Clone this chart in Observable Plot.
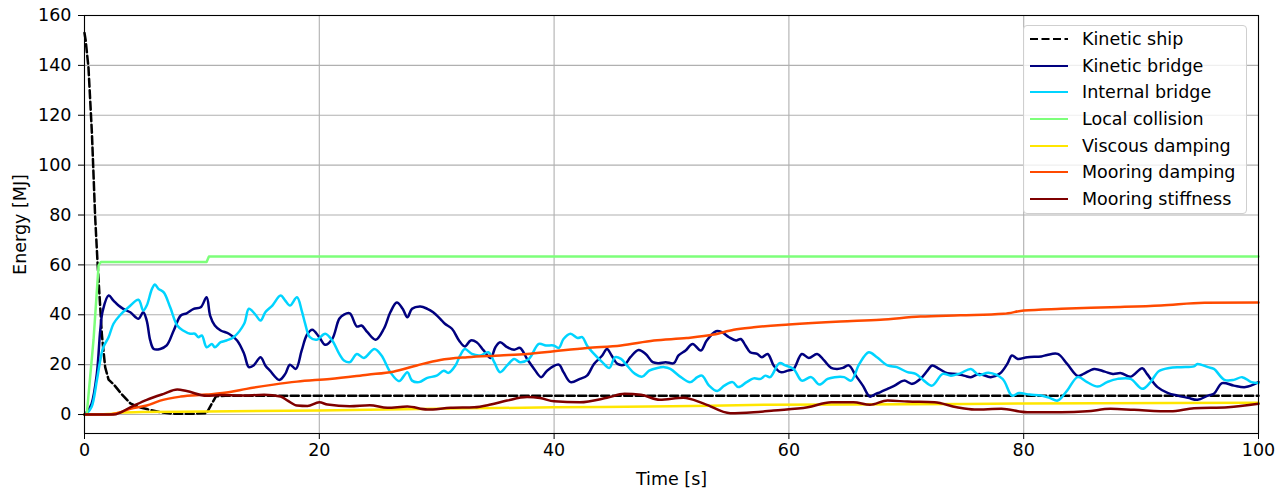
<!DOCTYPE html>
<html>
<head>
<meta charset="utf-8">
<script src="https://cdn.jsdelivr.net/npm/d3@7"></script>
<script src="https://cdn.jsdelivr.net/npm/@observablehq/plot@0.6"></script>
<style>
  body { margin: 0; background: #fff; font-family: "DejaVu Sans", sans-serif; }
  #chart { position: relative; width: 1286px; height: 493px; }
  .legend {
    position: absolute; left: 1023px; top: 25px; width: 224px; height: 189px;
    box-sizing: border-box; border: 1px solid #cfcfcf; border-radius: 4px;
    background: rgba(255, 255, 255, 0.8);
  }
  .legend .row {
    position: absolute; left: 6px; height: 26px; display: flex; align-items: center;
    font-size: 17.5px; color: #000; white-space: nowrap;
  }
  .legend svg { margin-right: 14px; }
</style>
</head>
<body>
<div id="chart"></div>
<script>
// Energy components over time [s, MJ]
const kineticShip = [[0,153],[0.1,150],[0.34,139],[0.63,113],[0.91,79],[1.11,61],[1.48,32],[1.76,19],[2.05,14],[2.5,12],[3.2,8],[3.9,4.5],[4.6,3],[5.3,2.2],[6.5,0.9],[7.6,0.3],[9,0.3],[10.4,0.5],[10.8,4],[11.2,7.3],[12,7.5],[100,7.5]];

const kineticBridge = [[0,0],[0.2,1],[0.6,4.3],[1.05,16.3],[1.34,33.7],[1.56,41.7],[2.05,47.7],[2.47,45.7],[2.9,43.7],[3.3,42.4],[3.9,41],[4.6,38.4],[5.0,41],[5.3,37.7],[5.6,29.7],[5.9,26.3],[6.45,26.3],[7.0,27.7],[7.6,33.7],[8.2,39.7],[8.7,40.6],[9.3,42.4],[9.9,43],[10.4,47],[10.7,39.7],[11.1,35.7],[11.6,33.7],[12.3,32.4],[13.0,29.7],[13.6,24.3],[14.0,19],[14.4,19.7],[15.0,23],[15.4,19.7],[15.8,17.6],[16.6,13.9],[17.1,16.3],[17.5,20],[18.0,18.3],[18.5,25.7],[18.95,32],[19.4,34],[20.0,31],[20.5,28],[21.1,30.3],[21.7,38.4],[22.1,40.1],[22.6,40.6],[23.2,35.3],[23.6,35.7],[24.1,33],[24.8,30],[25.5,34.4],[26.05,41],[26.6,44.9],[27.1,42.4],[27.5,39],[27.9,42.4],[28.6,43.3],[29.2,42.4],[29.7,41],[30.3,38.4],[30.7,36.4],[31.3,34.4],[31.9,29.7],[32.4,27.3],[32.9,29.7],[33.4,29],[34.0,25.7],[34.6,22.7],[35.0,27],[35.4,29],[36.0,27],[36.6,26],[37.1,26.7],[37.7,22.3],[38.3,18.3],[38.9,15],[39.4,17.6],[40.4,20],[40.8,17],[41.4,13],[42.2,14.3],[42.8,15.6],[43.4,20.3],[44.1,23.7],[44.5,26.3],[44.9,23.7],[45.4,20.3],[46.0,20],[46.5,23],[47.2,25.9],[47.8,24.3],[48.4,21],[48.9,20.6],[49.5,21],[50.2,20.6],[50.6,23.7],[51.2,25.7],[51.8,28.3],[52.5,25.7],[53.0,29.7],[53.8,33.4],[54.3,33],[54.9,31],[55.5,29.7],[55.9,30.3],[56.3,27.7],[56.7,25],[57.3,24.3],[57.7,23],[58.2,24.3],[58.7,19.7],[59.3,17],[59.9,17.6],[60.4,18.3],[61.1,24.3],[61.7,22.7],[62.4,24.3],[63.0,21.7],[63.6,18.7],[64.1,18.3],[64.6,18.7],[65.1,19.7],[65.7,15.6],[66.3,11.6],[66.9,7.2],[67.4,8.3],[67.8,9],[68.4,10.3],[69.0,11.6],[69.8,13.6],[70.5,12.3],[71.2,14.3],[71.8,17.6],[72.2,19.7],[72.8,18.3],[73.5,16.6],[74.3,16.3],[75.0,15.5],[75.5,15],[76.2,16.3],[77.2,15],[78.0,16.6],[78.6,20.3],[79.0,23.7],[79.5,22.3],[80.3,23],[81.5,23.3],[82.0,23.9],[82.9,24.3],[83.7,20.3],[84.6,15.5],[85.1,16.3],[86,18.3],[86.9,17.2],[87.6,16.3],[88.3,16.6],[89.1,15.2],[90.1,18.6],[90.5,16.3],[91.4,11],[92.3,8.6],[93.1,7.6],[94.0,6.7],[94.8,5.9],[95.7,7.6],[96.2,8.3],[96.9,12.6],[97.9,11.6],[98.9,11],[100,13]];

const internalBridge = [[0,0],[0.2,0.5],[0.6,3],[1.05,13.6],[1.34,21.7],[1.6,27],[2.05,31],[2.47,36.4],[3.0,39.7],[3.75,43],[4.6,46],[5.0,41.7],[5.3,43.7],[5.75,50.4],[6.0,52.1],[6.3,50.4],[6.75,49],[7.3,43],[7.9,35.7],[8.4,33.7],[9.0,32.4],[9.4,32.4],[9.7,31],[10.0,31.7],[10.4,27],[10.85,28.3],[11.1,27],[11.6,29],[12.1,29.7],[12.7,31],[13.6,36.4],[14.0,42.4],[14.5,40.4],[15.0,37.7],[15.4,41],[16.0,43.7],[16.7,47.7],[17.1,45.7],[17.5,43.7],[18.1,47],[18.5,41.7],[18.8,36.4],[19.2,31],[19.8,30],[20.5,32.4],[21.1,29.7],[21.7,24.3],[22.1,21.7],[22.6,21],[23.2,24.3],[23.8,22.7],[24.7,26.3],[25.3,23.7],[26.05,17],[26.8,13.4],[27.5,17],[27.9,13.6],[28.5,13],[29.2,14.7],[30.0,15.6],[30.6,17.6],[31.0,16.7],[31.6,19.7],[32.0,23.7],[32.4,26.3],[33.0,24.3],[33.7,23.7],[34.4,25],[34.9,21],[35.4,17],[36.0,19.7],[36.6,22.3],[37.1,21],[37.85,22.3],[38.7,28.3],[39.3,27.7],[39.95,27.7],[40.4,26.7],[40.8,30.3],[41.4,32.4],[42.0,30.7],[42.4,31],[42.8,27.7],[43.4,24.3],[44.1,21],[44.7,18.7],[45.2,23],[45.7,22.3],[46.2,19.7],[46.9,16.3],[47.5,15.2],[48.1,17.6],[48.8,18.7],[49.4,19],[49.9,18.3],[50.8,15],[51.6,13],[52.2,15],[52.6,15.6],[53.2,11.6],[53.9,9.4],[54.5,11.6],[55.2,13],[55.7,11],[56.4,13],[57.0,14.5],[57.6,14.3],[58.0,15.6],[58.4,15],[59.2,20.6],[59.7,19.7],[60.4,18.3],[61.1,13.6],[61.9,15],[62.6,12],[63.3,14.3],[63.9,15],[64.7,15],[65.3,13.6],[66.0,20.3],[66.8,25],[67.5,23],[68.4,19.7],[69.2,19],[70.1,17],[70.8,16.3],[71.5,13.6],[72.2,11.6],[73.1,16.3],[73.8,15.6],[74.6,16.5],[75.5,18.3],[76.2,15.8],[77.0,16.8],[78.2,14.3],[79.0,7.6],[79.6,8.6],[80.5,8],[81.5,7.6],[82.2,6.7],[82.9,5.6],[83.7,9.6],[84.6,15],[85.4,13],[86.3,11.2],[87.1,13],[88.0,14.3],[89.1,14.3],[90.1,10.3],[90.8,13],[91.5,17.4],[92.4,18.7],[93.4,19],[94.5,19.3],[94.8,20.3],[95.7,19],[96.2,18.3],[97.1,13.9],[97.9,13.9],[98.6,15],[99.4,13],[100,12.6]];

const localCollision = [[0,0],[0.2,0.5],[0.77,30],[1.2,59.8],[1.4,61.2],[10.4,61.2],[10.6,63.4],[100,63.4]];

const viscousDamping = [[0,0],[2,0.2],[3,0.7],[5,1],[10,1.2],[20,1.6],[30,2.3],[40,2.9],[50,3.3],[58,3.9],[70,4.1],[80,4.4],[100,4.7]];

const mooringDamping = [[0,0],[2,0],[2.75,0.5],[3.9,2.3],[5.3,3.6],[6.45,5.6],[8.2,7.2],[10.4,8],[12.4,9],[13.8,10.3],[16.1,12],[18.1,13.2],[20.9,14.3],[24.1,16],[26.3,17.2],[28.3,19.7],[30.3,21.9],[32.6,23],[35.4,23.7],[37.7,24.3],[40,25.4],[42.8,26.7],[45.7,27.7],[48.5,29.7],[51.3,30.7],[53.6,32.1],[55.3,34],[57,35],[60,36.1],[64.4,37.3],[67.8,38],[71.2,39.3],[74.6,39.8],[78.3,40.4],[80,41.7],[83.2,42.4],[87.4,43],[91.7,43.7],[95.4,44.8],[100,44.9]];

const mooringStiffness = [[0,0],[2.5,0],[3.9,2.9],[5.3,5.9],[6.75,8.3],[7.9,10],[8.7,9.4],[10.4,7.5],[11.6,7.8],[13.3,7.6],[15.3,7.9],[16.7,7.2],[17.3,5.6],[18.1,3.6],[19,3.4],[20,4.9],[20.7,4],[22.6,3.3],[24.3,3.7],[25.8,2.7],[27.5,3.2],[29.2,2],[31.2,2.7],[33.2,2.9],[34.6,4],[36,5.6],[37.7,7],[38.8,6.6],[40,5.3],[42.2,4.9],[44.5,6.7],[46,8.3],[47.4,7.9],[49,5.9],[51,6.7],[52.8,4.3],[55,0.5],[57,0.9],[58.7,1.6],[61.6,2.9],[63.6,4.9],[65.5,4.9],[66.9,3.9],[68.4,5.6],[70.1,5.2],[72.4,4.9],[74.3,2.9],[75.8,2],[78.1,2.3],[80.3,0.9],[83.2,0.9],[85.4,1.3],[87.4,2.3],[89.4,1.9],[92.5,1.3],[94.5,2.5],[97.4,2.9],[100,4.3]];

const seriesNames = ["Kinetic ship", "Kinetic bridge", "Internal bridge", "Local collision", "Viscous damping", "Mooring damping", "Mooring stiffness"];
const seriesColors = ["#000000", "#00007f", "#00d4ff", "#7dff7a", "#ffe600", "#ff4a00", "#7f0000"];
const seriesDashes = ["8,3.5", null, null, null, null, null, null];
const seriesCurves = ["linear", "catmull-rom", "catmull-rom", "linear", "monotone-x", "monotone-x", "monotone-x"];
const seriesValues = [kineticShip, kineticBridge, internalBridge, localCollision, viscousDamping, mooringDamping, mooringStiffness];

const xTicks = [0, 20, 40, 60, 80, 100];
const yTicks = [0, 20, 40, 60, 80, 100, 120, 140, 160];

const lineMarks = seriesValues.map((values, i) =>
  Plot.line(values.map(([t, e]) => ({t, e})), {
    x: "t", y: "e",
    curve: seriesCurves[i],
    stroke: seriesColors[i],
    strokeWidth: 2.5,
    strokeDasharray: seriesDashes[i] ?? undefined,
    strokeLinejoin: "round"
  })
);

const chart = Plot.plot({
  width: 1286,
  height: 493,
  marginLeft: 84,
  marginRight: 28,
  marginTop: 15,
  marginBottom: 60,
  style: { fontFamily: "DejaVu Sans", fontSize: "17.5px", color: "#000", background: "#fff" },
  x: { domain: [0, 100] },
  y: { domain: [-7.6, 160] },
  marks: [
    Plot.gridX(xTicks, { stroke: "#b0b0b0", strokeOpacity: 1, strokeWidth: 1.1 }),
    Plot.gridY(yTicks, { stroke: "#b0b0b0", strokeOpacity: 1, strokeWidth: 1.1 }),
    ...lineMarks,
    Plot.frame({ stroke: "#000", strokeWidth: 1.1 }),
    Plot.axisX(xTicks, { tickSize: 6, tickPadding: 4.5, label: "Time [s]", labelAnchor: "center", labelArrow: "none", labelOffset: 51 }),
    Plot.axisY(yTicks, { tickSize: 6, tickPadding: 7, label: "Energy [MJ]", labelAnchor: "center", labelArrow: "none", labelOffset: 71 })
  ]
});

const container = document.getElementById("chart");
container.appendChild(chart);

// Legend box in the upper-right corner of the plot area
const legend = d3.select(container).append("div").attr("class", "legend");
seriesNames.forEach((name, i) => {
  const row = legend.append("div").attr("class", "row")
    .style("top", (13.3 + i * 26.57 - 13) + "px");
  const sw = row.append("svg").attr("width", 38).attr("height", 10);
  sw.append("line")
    .attr("x1", 0).attr("x2", 38).attr("y1", 5).attr("y2", 5)
    .attr("stroke", seriesColors[i]).attr("stroke-width", 2.2)
    .attr("stroke-dasharray", seriesDashes[i]);
  row.append("span").text(name);
});
</script>
</body>
</html>
